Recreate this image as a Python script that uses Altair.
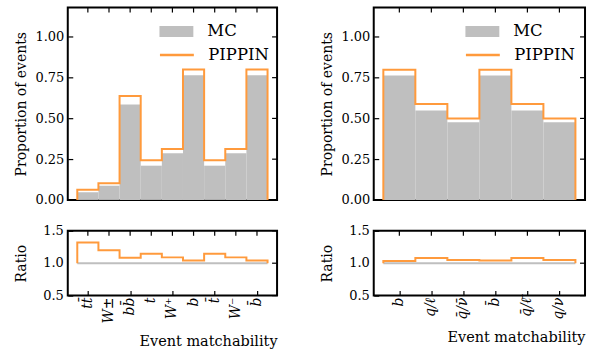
import altair as alt
import pandas as pd

# ---------------- data ----------------
left_cats = ["tt\u0304", "W\u00b1", "bb\u0304", "t", "W\u207a", "b", "t\u0304", "W\u207b", "b\u0304"]
left_mc = [0.047, 0.087, 0.586, 0.210, 0.286, 0.765, 0.210, 0.286, 0.765]
left_pippin = [0.063, 0.103, 0.637, 0.243, 0.313, 0.800, 0.243, 0.313, 0.800]
left_ratio = [1.32, 1.20, 1.085, 1.146, 1.09, 1.042, 1.146, 1.09, 1.042]

right_cats = ["b", "q/\u2113", "q\u0304/\u03bd\u0304", "b\u0304", "q\u0304/\u2113\u0304", "q/\u03bd"]
right_mc = [0.763, 0.549, 0.477, 0.763, 0.549, 0.477]
right_pippin = [0.798, 0.588, 0.499, 0.798, 0.588, 0.499]
right_ratio = [1.035, 1.08, 1.05, 1.04, 1.08, 1.05]

y_ticks_top = [0.0, 0.25, 0.5, 0.75, 1.0]
y_ticks_ratio = [0.5, 1.0, 1.5]
y_labels_ratio = ["0.5", "1.0", "1.5"]

ORANGE = "#ff9a3c"
GRAY = "#bfbfbf"
FONT = "DejaVu Serif"

TOP_H = 193
RAT_H = 65


def bars_df(vals):
    return pd.DataFrame({"x0": list(range(len(vals))),
                         "x1": [i + 1 for i in range(len(vals))],
                         "v": vals,
                         "series": ["MC"] * len(vals)})


def step_df(vals, base, name):
    xs, ys = [0], [base]
    for i, v in enumerate(vals):
        xs += [i, i + 1]
        ys += [v, v]
    xs.append(len(vals))
    ys.append(base)
    return pd.DataFrame({"x": xs, "y": ys, "o": list(range(len(xs))), "series": [name] * len(xs)})


def centers_df(cats):
    return pd.DataFrame({"c": [i + 0.5 for i in range(len(cats))], "lab": cats})


AX = dict(offset=-5, tickSize=5, domain=False, grid=False,
          labelOverlap=False, labelFlush=False)


def top_panel(cats, mc, pip, width):
    n = len(cats)
    pad = 0.05 * n
    xs = alt.Scale(domain=[-pad, n + pad], nice=False, zero=False)
    ys = alt.Scale(domain=[0, 1.18], nice=False)
    xaxis = alt.Axis(values=[i + 0.5 for i in range(n)], labels=False, title=None, **AX)
    yaxis = alt.Axis(values=y_ticks_top, format=".2f", title="Proportion of events",
                     labelPadding=4, titleX=-51, titleBaseline="middle", **AX)
    bars = alt.Chart(bars_df(mc)).mark_rect().encode(
        x=alt.X("x0:Q", scale=xs, axis=xaxis),
        x2="x1:Q",
        y=alt.Y("v:Q", scale=ys, axis=yaxis),
        y2=alt.datum(0),
        color=alt.Color("series:N", scale=alt.Scale(domain=["MC"], range=[GRAY]),
                        legend=alt.Legend(title=None, orient="none", legendX=91, legendY=6,
                                          symbolType="M-1,-0.32H1V0.32H-1Z", symbolSize=1156,
                                          symbolOpacity=1, labelOffset=13, labelFontSize=16.5,
                                          padding=0)),
    )
    line = alt.Chart(step_df(pip, 0.0, "PIPPIN")).mark_line(strokeWidth=2).encode(
        x=alt.X("x:Q", scale=xs),
        y=alt.Y("y:Q", scale=ys),
        order="o:Q",
        stroke=alt.Stroke("series:N", scale=alt.Scale(domain=["PIPPIN"], range=[ORANGE]),
                          legend=alt.Legend(title=None, orient="none", legendX=91, legendY=29,
                                            symbolType="stroke", symbolSize=1156,
                                            symbolStrokeWidth=2.5, labelOffset=13,
                                            labelFontSize=16.5, padding=0)),
    )
    top_ticks = alt.Chart(centers_df(cats)).mark_rule(color="black", strokeWidth=1.2).encode(
        x=alt.X("c:Q", scale=xs), y=alt.value(0), y2=alt.value(5))
    right_ticks = alt.Chart(pd.DataFrame({"v": y_ticks_top})).mark_rule(color="black", strokeWidth=1.2).encode(
        y=alt.Y("v:Q", scale=ys), x=alt.value(width - 5), x2=alt.value(width))
    return alt.layer(bars, line, top_ticks, right_ticks).properties(width=width, height=TOP_H)


def ratio_panel(cats, ratio, width, title_y):
    n = len(cats)
    pad = 0.05 * n
    xs = alt.Scale(domain=[-pad, n + pad], nice=False, zero=False)
    ys = alt.Scale(domain=[0.5, 1.5], nice=False, zero=False)
    xaxis = alt.Axis(values=[i + 0.5 for i in range(n)], labels=False,
                     title="Event matchability", titleAnchor="end", titleY=title_y,
                     titleBaseline="middle", titleFontSize=14.5, **AX)
    yaxis = alt.Axis(values=y_ticks_ratio, labels=False, title="Ratio",
                     titleX=-51, titleBaseline="middle", **AX)
    base = alt.Chart(pd.DataFrame({"x0": [0], "x1": [n], "y": [1.0]})).mark_rule(
        color=GRAY, strokeWidth=2).encode(
        x=alt.X("x0:Q", scale=xs, axis=xaxis),
        x2="x1:Q",
        y=alt.Y("y:Q", scale=ys, axis=yaxis),
    )
    line = alt.Chart(step_df(ratio, 1.0, "PIPPIN")).mark_line(strokeWidth=2, color=ORANGE).encode(
        x=alt.X("x:Q", scale=xs),
        y=alt.Y("y:Q", scale=ys),
        order="o:Q",
    )
    cdf = centers_df(cats)
    top_ticks = alt.Chart(cdf).mark_rule(color="black", strokeWidth=1.2).encode(
        x=alt.X("c:Q", scale=xs), y=alt.value(0), y2=alt.value(5))
    ydf = pd.DataFrame({"v": y_ticks_ratio, "lab": y_labels_ratio})
    right_ticks = alt.Chart(ydf).mark_rule(color="black", strokeWidth=1.2).encode(
        y=alt.Y("v:Q", scale=ys), x=alt.value(width - 5), x2=alt.value(width))
    xlabels = alt.Chart(cdf).mark_text(
        angle=270, align="right", baseline="middle", font=FONT, fontSize=14,
        fontStyle="italic", color="black").encode(
        x=alt.X("c:Q", scale=xs), y=alt.value(RAT_H + 2), text="lab:N")
    ylabels = alt.Chart(ydf).mark_text(
        align="right", baseline="middle", font=FONT, fontSize=13, color="black").encode(
        y=alt.Y("v:Q", scale=ys), x=alt.value(-4), text="lab:N")
    return alt.layer(base, line, top_ticks, right_ticks, xlabels, ylabels).properties(
        width=width, height=RAT_H)


chart = alt.concat(
    top_panel(left_cats, left_mc, left_pippin, 210),
    top_panel(right_cats, right_mc, right_pippin, 212),
    ratio_panel(left_cats, left_ratio, 210, 51),
    ratio_panel(right_cats, right_ratio, 212, 47),
    columns=2,
    spacing={"row": 31, "column": 97},
).properties(
    bounds="flush",
    padding={"left": 13, "top": 5, "right": 4, "bottom": 2},
).resolve_scale(
    color="independent", stroke="independent"
).configure_view(
    stroke="black", strokeWidth=2
).configure_axis(
    labelFont=FONT, titleFont=FONT, labelFontSize=13, titleFontSize=14,
    labelColor="black", titleColor="black", tickColor="black", tickWidth=1.2,
    titleFontWeight="normal",
).configure_legend(
    labelFont=FONT, labelColor="black"
)

chart.save("out.html", embed_options={"renderer": "svg", "actions": False})
